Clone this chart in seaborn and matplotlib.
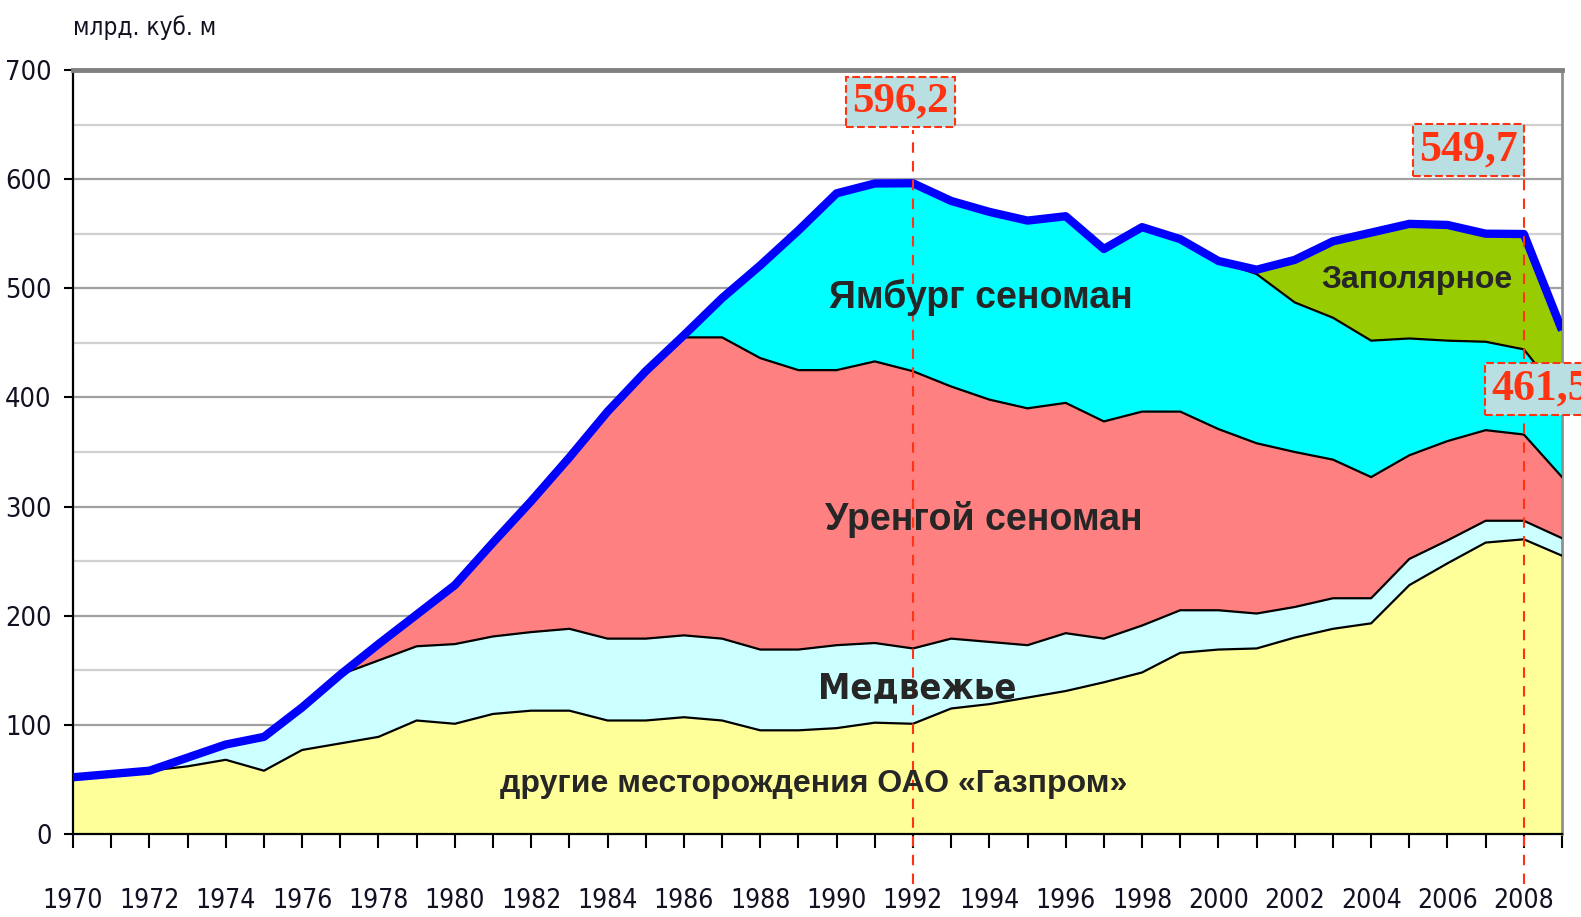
import matplotlib
matplotlib.use('Agg')
import matplotlib.pyplot as plt
import seaborn as sns
import pandas as pd
from matplotlib import font_manager as fm

# Data (млрд. куб. м)
years = list(range(1970, 2010))
others = [52, 55, 58, 62, 68, 58, 77, 83, 89, 104,
          101, 110, 113, 113, 104, 104, 107, 104, 95, 95,
          97, 102, 101, 115, 119, 125, 131, 139, 148, 166,
          169, 170, 180, 188, 193, 228, 248, 267, 270, 255]
medvezhye = [0, 0, 0, 8, 14, 31, 39, 63, 70, 68,
             73, 71, 72, 75, 75, 75, 75, 75, 74, 74,
             76, 73, 69, 64, 57, 48, 53, 40, 43, 39,
             36, 32, 28, 28, 23, 24, 21, 20, 17, 16]
urengoy = [0, 0, 0, 0, 0, 0, 0, 0, 15, 29,
           54, 86, 120, 157, 208, 245, 273, 276, 267, 256,
           252, 258, 254, 231, 222, 217, 211, 199, 196, 182,
           166, 156, 142, 127, 111, 95, 91, 83, 79, 56]
yamburg = [0, 0, 0, 0, 0, 0, 0, 0, 0, 0,
           0, 0, 0, 0, 0, 0, 2, 36, 85, 128,
           162, 163, 172.2, 170, 172, 172, 171, 158, 169, 158,
           154, 155, 137, 130, 125, 107, 92, 81, 78, 73]
zapolyarnoe = [0] * 31 + [4, 39, 70, 99, 105, 106, 99, 105.7, 61.5]

layer_names = ['others', 'medvezhye', 'urengoy', 'yamburg', 'zapolyarnoe']
layer_colors = ['#FFFF99', '#CCFFFF', '#FF8080', '#00FFFF', '#99CC00']

df = pd.DataFrame({'year': years, 'others': others, 'medvezhye': medvezhye,
                   'urengoy': urengoy, 'yamburg': yamburg,
                   'zapolyarnoe': zapolyarnoe})
df['total'] = df[layer_names].sum(axis=1)

sns.set_style('white')
plt.rcParams['font.family'] = ['Liberation Sans', 'DejaVu Sans']

# look for a condensed / narrow face for the axis numbers
narrow_stretch = ('condensed', 'semi-condensed', 'extra-condensed', 'ultra-condensed')
cond = [f for f in fm.fontManager.ttflist
        if (f.stretch in narrow_stretch or 'Condensed' in f.name or 'Narrow' in f.name)
        and f.style == 'normal' and 'CJK' not in f.name]
cond_reg = [f for f in cond if f.weight in (400, 'normal', 'regular', 'book')]
cond_bold = [f for f in cond if f.weight in (700, 'bold')]


def narrow_fp(size, bold=False):
    pool = cond_bold if bold and cond_bold else cond_reg
    if pool:
        return fm.FontProperties(fname=pool[0].fname, size=size)
    return fm.FontProperties(family='Roboto', size=size * 0.85,
                             weight='bold' if bold else 'normal')


fig = plt.figure(figsize=(15.81, 9.17), dpi=100)
ax = fig.add_axes([0.0462, 0.0905, 0.9418, 0.8332])

# stacked areas
bottom = pd.Series(0.0, index=df.index)
for name, col in zip(layer_names, layer_colors):
    top = bottom + df[name]
    ax.fill_between(df['year'], bottom, top, color=col, lw=0, zorder=2)
    bottom = top

# black boundaries between layers
cum = df[layer_names[:-1]].cumsum(axis=1)
for name in layer_names[:-1]:
    sns.lineplot(x=df['year'], y=cum[name], color='black', lw=1.6, ax=ax, zorder=3)

# total line
sns.lineplot(data=df, x='year', y='total', color='#0000FF', lw=6, ax=ax, zorder=4,
             solid_capstyle='butt')

ax.set_xlim(1970, 2009)
ax.set_ylim(0, 700)
ax.set_xlabel('')
ax.set_ylabel('')

ax.set_yticks(range(0, 701, 100))
ax.set_yticks(range(50, 700, 100), minor=True)
ax.grid(which='major', axis='y', color='#A0A0A0', lw=1.6)
ax.grid(which='minor', axis='y', color='#D0D0D0', lw=1.6)
ax.set_axisbelow(True)

ax.set_xticks(years)
ax.set_xticklabels([str(y) if y % 2 == 0 else '' for y in years])
ax.tick_params(axis='x', which='major', direction='out', length=10, width=1.5,
               color='black', pad=29, bottom=True)
ax.tick_params(axis='y', which='major', direction='out', length=6.5, width=1.5,
               color='black', pad=9, left=True)
ax.tick_params(axis='y', which='minor', left=False)
for lab in ax.get_xticklabels():
    lab.set_fontproperties(narrow_fp(19))
    lab.set_color('#111122')
for lab in ax.get_yticklabels():
    lab.set_fontproperties(narrow_fp(19.5))
    lab.set_color('#111122')

for side in ['left', 'bottom']:
    ax.spines[side].set_color('black')
    ax.spines[side].set_linewidth(1.6)
ax.spines['top'].set_color('#808080')
ax.spines['top'].set_linewidth(3.5)
ax.spines['right'].set_color('#909090')
ax.spines['right'].set_linewidth(2)

# dashed markers for 1992 and 2008
red = '#FF3311'
ax.plot([1992, 1992], [-46, 645], color=red, lw=1.5, ls=(0, (5, 4)), clip_on=False, zorder=5)
ax.plot([2008, 2008], [-46, 603], color=red, lw=1.5, ls=(0, (5, 4)), clip_on=False, zorder=5)

box = dict(boxstyle='square,pad=0.14', fc='#B9DFE2', ec=red, ls='--', lw=1.5)
num_font = ['Liberation Serif', 'DejaVu Serif']
ax.text(1991.67, 671, '596,2', color=red, fontsize=31, fontweight='bold', family=num_font,
        ha='center', va='center', bbox=box, zorder=6, clip_on=False)
ax.text(2006.56, 627, '549,7', color=red, fontsize=31.5, fontweight='bold', family=num_font,
        ha='center', va='center', bbox=box, zorder=6, clip_on=False)
ax.text(2007.15, 408, '461,5', color=red, fontsize=31.5, fontweight='bold', family=num_font,
        ha='left', va='center', bbox=box, zorder=6, clip_on=False)

# field labels
ax.text(1993.77, 492, 'Ямбург сеноман', fontsize=27, fontweight='bold',
        ha='center', va='center', zorder=6)
ax.text(1993.85, 288, 'Уренгой сеноман', fontsize=27, fontweight='bold',
        ha='center', va='center', zorder=6)
ax.text(1992.1, 133, 'Медвежье', fontproperties=narrow_fp(26, bold=True),
        ha='center', va='center', zorder=6)
ax.text(1989.4, 46, 'другие месторождения ОАО «Газпром»', fontsize=23, fontweight='bold',
        ha='center', va='center', zorder=6)
ax.text(2005.2, 508, 'Заполярное', fontsize=23, fontweight='bold',
        ha='center', va='center', zorder=6)

fig.text(0.046, 0.9695, 'млрд. куб. м', fontproperties=narrow_fp(17.5),
         ha='left', va='center', color='#111122')

fig.savefig('out.png', dpi=100)
